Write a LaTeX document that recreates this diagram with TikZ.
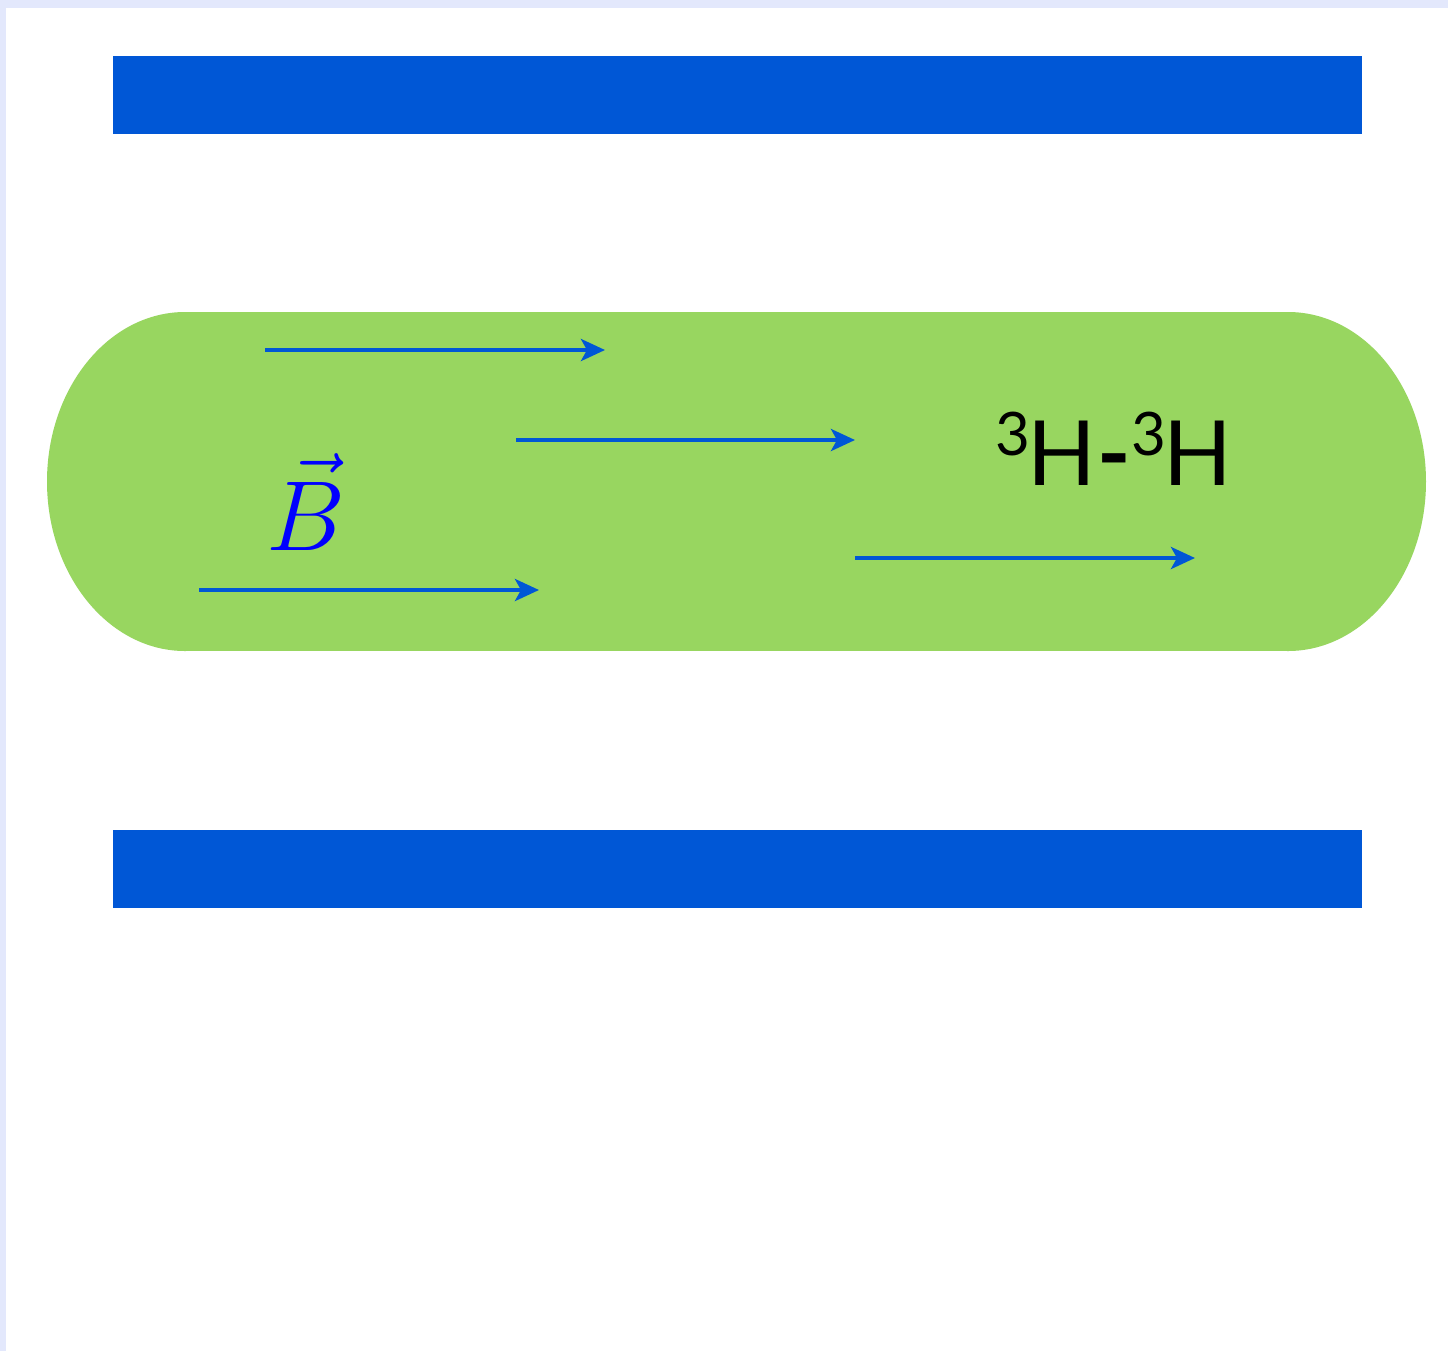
\documentclass[tikz,border=0pt]{standalone}
\usepackage{fontspec}
\usepackage{graphicx}
\newfontfamily\labelfont{Lato}
\usetikzlibrary{arrows.meta}
\definecolor{barblue}{RGB}{0,87,214}
\definecolor{tubegreen}{RGB}{152,214,96}
\definecolor{edgeband}{RGB}{227,232,252}
\definecolor{pureblue}{RGB}{0,0,255}
\newcommand{\supthree}{\raisebox{15pt}{\fontsize{30}{34}\selectfont 3}}
\tikzset{
  bar/.style={fill=barblue, draw=none},
  tube/.style={fill=tubegreen, draw=none},
  fieldarrow/.style={draw=barblue, line width=2pt, -{Stealth[length=12pt,width=11pt,inset=3pt]}},
}
\begin{document}
\begin{tikzpicture}[x=0.5pt,y=-0.5pt]
\useasboundingbox (0,0) rectangle (1448,1351);
\fill[white] (0,0) rectangle (1448,1351);
\fill[edgeband] (0,0) rectangle (1448,8);
\fill[edgeband] (0,0) rectangle (6,1351);
% plates
\fill[bar] (113,56) rectangle (1362,134);
\fill[bar] (113,830) rectangle (1362,908);
% tube
\fill[tube] (185,312) rectangle (1288,651);
\fill[tube] (185,481.5) ellipse [x radius=138, y radius=169.5];
\fill[tube] (1288,481.5) ellipse [x radius=138, y radius=169.5];
% arrows
\coordinate (a1s) at (265,350); \coordinate (a1e) at (605,350);
\coordinate (a2s) at (516,440); \coordinate (a2e) at (855,440);
\coordinate (a3s) at (199,590); \coordinate (a3e) at (539,590);
\coordinate (a4s) at (855,558); \coordinate (a4e) at (1195,558);
\draw[fieldarrow] (a1s) -- (a1e);
\draw[fieldarrow] (a2s) -- (a2e);
\draw[fieldarrow] (a3s) -- (a3e);
\draw[fieldarrow] (a4s) -- (a4e);
% labels
\node[anchor=base, inner sep=0pt, text=pureblue] (bfield) at (306,550) {\scalebox{2}{\fontsize{24.88}{30}\selectfont$\vec{B}$}};
\node[anchor=base west, inner sep=0pt] (mol) at (995,485) {\labelfont\fontsize{45}{54}\selectfont\supthree\hspace{-1.5pt}H\hspace{1pt}{\bfseries -}\hspace{0pt}\supthree\hspace{-1.5pt}H};
\end{tikzpicture}
\end{document}
